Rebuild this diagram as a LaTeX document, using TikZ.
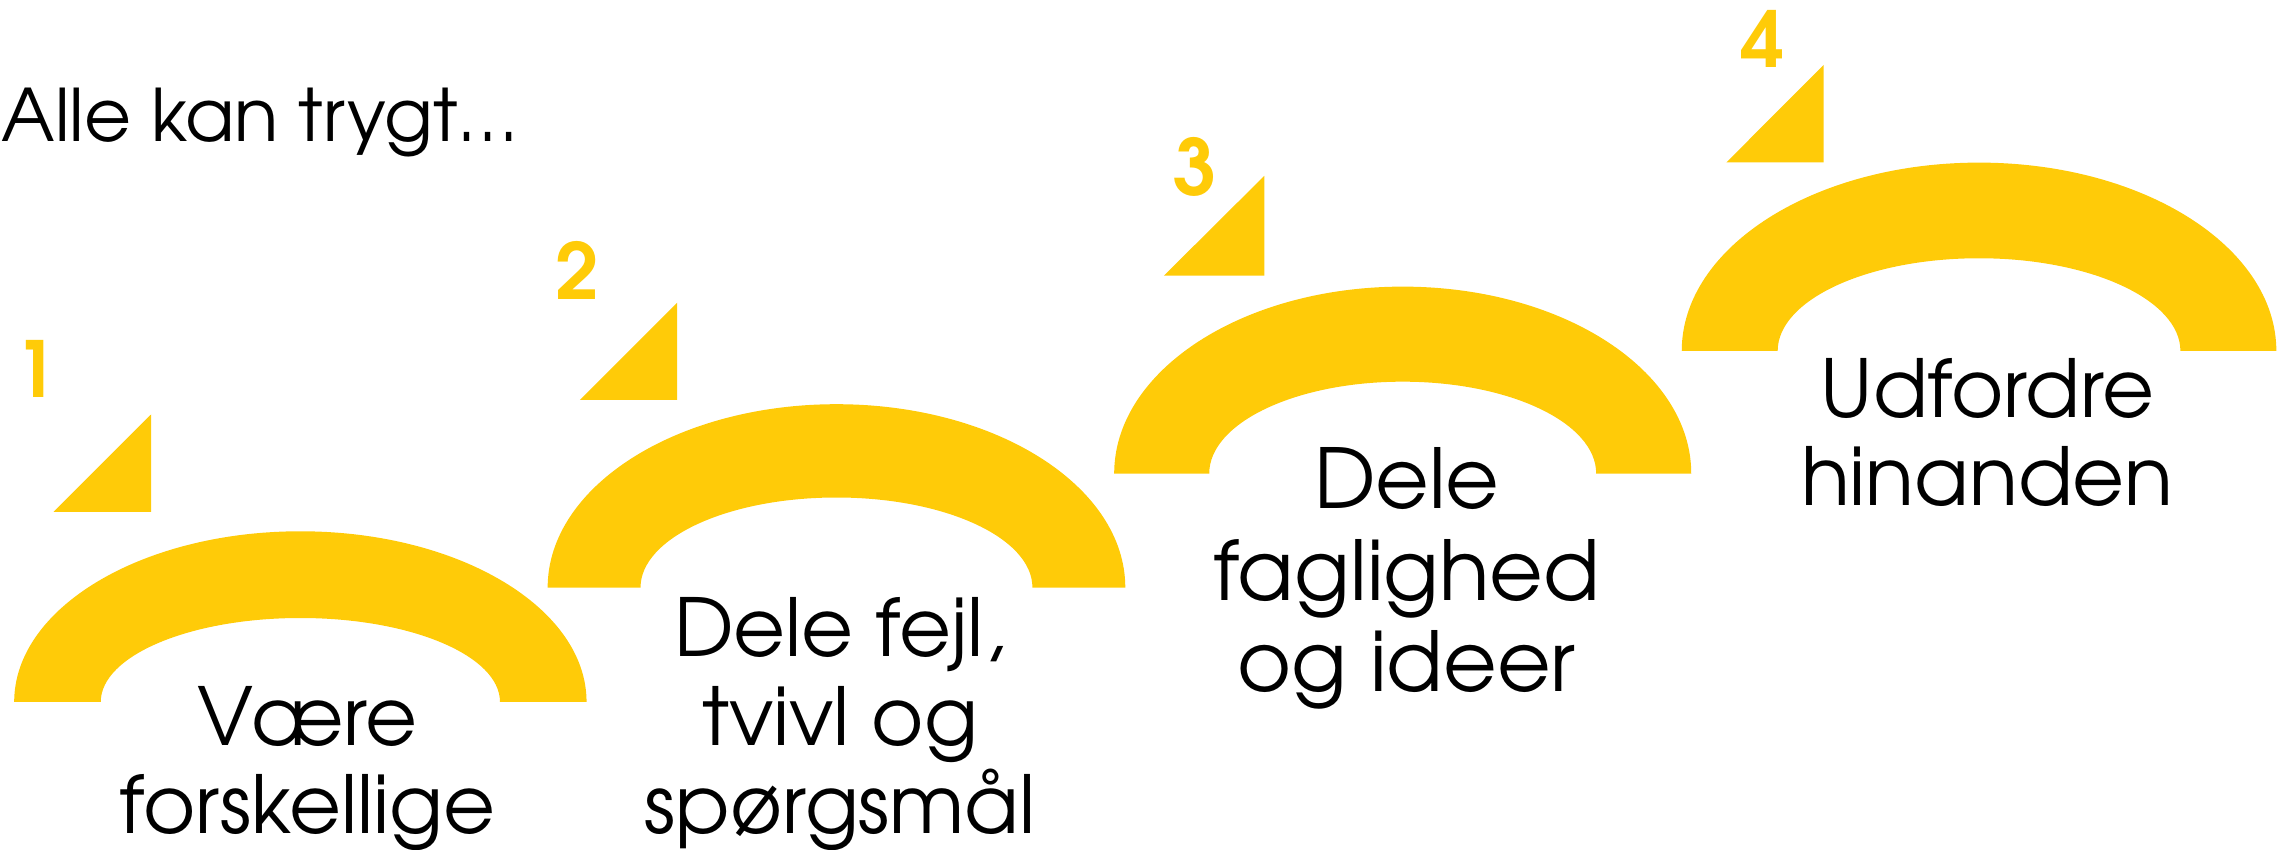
\documentclass[tikz,border=0pt]{standalone}
\usepackage{fontspec}
\setmainfont{TeX Gyre Adventor}
\definecolor{sunyellow}{HTML}{FFCB08}
\tikzset{
  archfill/.style={fill=sunyellow},
  wedge/.style={fill=sunyellow},
  stepnum/.style={inner sep=0pt, anchor=base, text=sunyellow,
    font=\bfseries\fontsize{44}{50}\selectfont},
  steplabel/.style={inner sep=0pt, anchor=base, align=center,
    font=\fontsize{45.5}{50.2}\selectfont},
}
% half elliptical band: centre x, base y, outer radii, inner radii
\newcommand\bandarch[6]{%
  \fill[archfill] ({#1-#3},#2)
    arc[start angle=180, end angle=0, x radius=#3, y radius=#4]
    -- ({#1+#5},#2)
    arc[start angle=0, end angle=180, x radius=#5, y radius=#6]
    -- cycle;}
\begin{document}
\begin{tikzpicture}[x=0.02925cm, y=0.02925cm]
  \useasboundingbox (0,0) rectangle (1568,581);

  % title
  \node[inner sep=0pt, anchor=base west, font=\fontsize{41.2}{46}\selectfont]
    (title) at (0.8,484) {Alle kan trygt\dots};

  % arches
  \bandarch{205.4}{101}{195.7}{116.7}{136.5}{57.4}
  \bandarch{572}{179.2}{197.5}{125.4}{134}{61.6}
  \bandarch{959.2}{257.2}{197.3}{127.8}{132.3}{62.8}
  \bandarch{1353.3}{341}{203.3}{128.8}{137.7}{63.4}

  % step wedges
  \fill[wedge] (36.6,231) -- (103.4,231) -- (103.4,297.7) -- cycle;
  \fill[wedge] (396.5,307.5) -- (463,307.5) -- (463,374) -- cycle;
  \fill[wedge] (795.9,392.5) -- (864.6,392.5) -- (864.6,460.8) -- cycle;
  \fill[wedge] (1180.5,469.9) -- (1247,469.9) -- (1247,536.6) -- cycle;

  % step numbers
  \node[stepnum] (n1) at (24.7,309.4) {1};
  \node[stepnum] (n2) at (394.5,376) {2};
  \node[stepnum] (n3) at (817,447.5) {3};
  \node[stepnum] (n4) at (1205.7,534.6) {4};

  % step labels (anchored at the baseline of the last line)
  \node[steplabel] (lab1) at (210.3,11.2) {Være\\forskellige};
  \node[steplabel] (lab2) at (574.5,11.2) {Dele fejl,\\tvivl og\\spørgsmål};
  \node[steplabel, font=\fontsize{47}{52}\selectfont] (lab3) at (962,108)
    {Dele\\faglighed\\og ideer};
  \node[steplabel] (lab4) at (1359,235) {Udfordre\\hinanden};
\end{tikzpicture}
\end{document}
